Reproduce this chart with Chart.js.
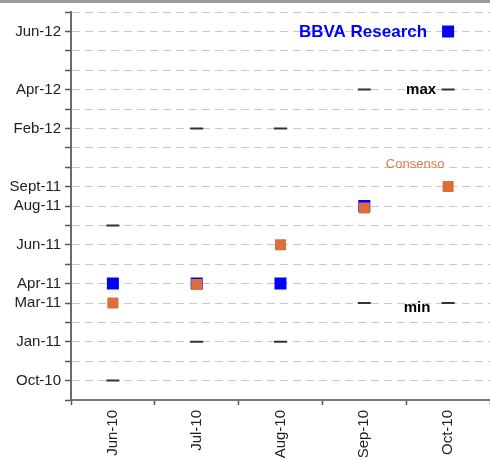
<!DOCTYPE html>
<html>
<head>
<meta charset="utf-8">
<script src="https://cdn.jsdelivr.net/npm/chart.js@4.4.1/dist/chart.umd.min.js"></script>
<style>
  html, body { margin: 0; padding: 0; background: #ffffff; }
  #wrap { width: 490px; height: 460px; position: relative; }
</style>
</head>
<body>
<div id="wrap"><canvas id="c" width="490" height="460"></canvas></div>
<script>
// Categories (forecast dates)
const categories = ['Jun-10', 'Jul-10', 'Aug-10', 'Sep-10', 'Oct-10'];
// Y-axis tick labels (one per tick index, 0 = bottom)
const yTickLabels = ['', 'Oct-10', '', 'Jan-11', '', 'Mar-11', 'Apr-11', '', 'Jun-11', '', 'Aug-11', 'Sept-11', '', '', 'Feb-12', '', 'Apr-12', '', '', 'Jun-12', ''];
// Series values (tick index units on the y axis)
const bbvaValues = [6, 6, 6, 10, 19];
const consensoValues = [5, 5.95, 8, 9.9, 11];
const maxValues = [9, 14, 14, 16, 16];
const minValues = [1, 3, 3, 5, 5];

const FONT = "'Liberation Sans', Arial, sans-serif";

const topBand = {
  id: 'topBand',
  beforeDraw(chart) {
    const ctx = chart.ctx;
    ctx.save();
    ctx.fillStyle = '#ffffff';
    ctx.fillRect(0, 0, chart.width, chart.height);
    ctx.fillStyle = '#9a9a9a';
    ctx.fillRect(0, 0, chart.width, 3);
    ctx.restore();
  }
};

const labelsPlugin = {
  id: 'labelsPlugin',
  afterDatasetsDraw(chart) {
    const ctx = chart.ctx;
    const xs = chart.scales.x, ys = chart.scales.y;
    const last = categories.length - 1;
    const xl = xs.getPixelForValue(last);
    ctx.save();
    ctx.textBaseline = 'middle';
    // BBVA Research
    ctx.fillStyle = '#0000ff';
    ctx.font = 'bold 17px ' + FONT;
    ctx.textAlign = 'right';
    ctx.fillText('BBVA Research', xl - 21, ys.getPixelForValue(bbvaValues[last]) + 0.5);
    // max
    ctx.fillStyle = '#000000';
    ctx.font = 'bold 15px ' + FONT;
    ctx.textAlign = 'center';
    ctx.fillText('max', xl - 27, ys.getPixelForValue(maxValues[last]) + 0.5);
    // min
    ctx.fillText('min', xl - 31, ys.getPixelForValue(minValues[last]) + 5);
    // Consenso
    ctx.fillStyle = '#e07a4a';
    ctx.font = '13px ' + FONT;
    ctx.fillText('Consenso', xl - 33, ys.getPixelForValue(consensoValues[last]) - 22);
    ctx.restore();
  }
};

new Chart(document.getElementById('c'), {
  type: 'line',
  data: {
    labels: categories,
    datasets: [
      {
        label: 'max',
        data: maxValues,
        order: 3,
        showLine: false,
        pointStyle: 'line',
        pointRadius: 6.5,
        pointBorderWidth: 2,
        pointBorderColor: '#333333',
        pointBackgroundColor: '#333333'
      },
      {
        label: 'min',
        data: minValues,
        order: 3,
        showLine: false,
        pointStyle: 'line',
        pointRadius: 6.5,
        pointBorderWidth: 2,
        pointBorderColor: '#333333',
        pointBackgroundColor: '#333333'
      },
      {
        label: 'BBVA Research',
        data: bbvaValues,
        order: 2,
        showLine: false,
        pointStyle: 'rect',
        pointRadius: 8.5,
        pointBorderWidth: 0,
        pointBackgroundColor: '#0000ff',
        pointBorderColor: '#0000ff'
      },
      {
        label: 'Consenso',
        data: consensoValues,
        order: 1,
        showLine: false,
        pointStyle: 'rect',
        pointRadius: 7.8,
        pointBorderWidth: 0,
        pointBackgroundColor: '#dd6e3c',
        pointBorderColor: '#dd6e3c'
      }
    ]
  },
  options: {
    responsive: false,
    animation: false,
    events: [],
    layout: { autoPadding: false, padding: { top: 12, right: 0, left: 0, bottom: 0 } },
    plugins: { legend: { display: false }, tooltip: { enabled: false } },
    scales: {
      x: {
        type: 'category',
        offset: true,
        grid: {
          offset: true,
          drawOnChartArea: false,
          drawTicks: true,
          tickLength: 5,
          tickColor: '#555555',
          tickWidth: 1.5
        },
        border: { display: true, color: '#7a7a7a', width: 2 },
        ticks: {
          minRotation: 90,
          maxRotation: 90,
          padding: 5,
          color: '#222222',
          font: { family: FONT, size: 15 }
        },
        afterFit(scale) {
          scale.height = 60;
          scale.paddingLeft = 0;
          scale.paddingRight = 0;
        }
      },
      y: {
        type: 'linear',
        min: 0,
        max: 20,
        grid: {
          color: '#c8c8c8',
          lineWidth: 1,
          drawTicks: true,
          tickLength: 6,
          tickColor: '#555555',
          tickWidth: 1.5,
          tickBorderDash: []
        },
        border: { display: true, color: '#6a6a6a', width: 2, dash: [8, 5] },
        ticks: {
          stepSize: 1,
          autoSkip: false,
          padding: 4,
          color: '#222222',
          font: { family: FONT, size: 15 },
          callback: (v) => yTickLabels[v] !== undefined ? yTickLabels[v] : ''
        },
        afterFit(scale) {
          scale.width = 71;
          scale.paddingTop = 0;
          scale.paddingBottom = 0;
        }
      }
    }
  },
  plugins: [topBand, labelsPlugin]
});
</script>
</body>
</html>
